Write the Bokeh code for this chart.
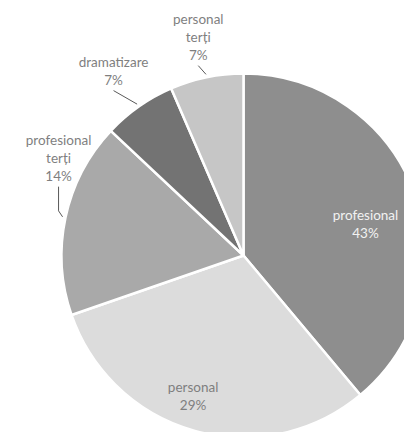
import numpy as np
from bokeh.plotting import figure
from bokeh.models import Range1d, ColumnDataSource
from bokeh.core.properties import value
from bokeh.embed import file_html
from bokeh.resources import INLINE

# ---- data ----
categories = ["profesional", "personal", "profesional\nterți", "dramatizare", "personal\nterți"]
shares = [38.9, 30.8, 17.3, 6.5, 6.5]
pct_labels = ["43%", "29%", "14%", "7%", "7%"]

# ---- style ----
colors = ["#8e8e8e", "#dcdcdc", "#a9a9a9", "#737373", "#c6c6c6"]
label_colors = ["#f2f2f2", "#7f7f7f", "#7f7f7f", "#7f7f7f", "#7f7f7f"]
label_angle_offset = [5.5, 4.3, 15.7, 0.0, 0.0]   # degrees
label_dist = [126, 149, 209, 226, 223]            # px from centre
has_leader = [False, False, True, True, True]
leader_elbow = [False, False, True, False, False]

W, H = 404, 432
cx, cy_screen, R = 243, 255, 182
cy = H - cy_screen
LINE_H = 17

p = figure(width=W, height=H, output_backend="svg", toolbar_location=None,
           x_range=Range1d(0, W), y_range=Range1d(0, H),
           min_border=0, outline_line_color=None,
           background_fill_color="white", border_fill_color="white")
p.axis.visible = False
p.xgrid.visible = False
p.ygrid.visible = False

vals = np.array(shares, dtype=float)
frac = vals / vals.sum()
cum_end = np.cumsum(frac)
cum_start = cum_end - frac
# angles measured clockwise from 12 o'clock (degrees)
a0 = cum_start * 360
a1 = cum_end * 360
mid = (a0 + a1) / 2

start_angle = np.pi / 2 - np.deg2rad(a0)
end_angle = np.pi / 2 - np.deg2rad(a1)

src = ColumnDataSource(dict(start=start_angle, end=end_angle, color=colors))
p.wedge(x=cx, y=cy, radius=R, start_angle="start", end_angle="end",
        direction="clock", fill_color="color", line_color="white",
        line_width=2.5, source=src)

# labels
lx, ly, texts = [], [], []
for i, cat in enumerate(categories):
    ang = np.deg2rad(mid[i] + label_angle_offset[i])
    x = cx + label_dist[i] * np.sin(ang)
    y = cy + label_dist[i] * np.cos(ang)
    lx.append(x)
    ly.append(y)
    texts.append(cat + "\n" + pct_labels[i])

p.text(x=lx, y=ly, text=texts, text_align="center", text_baseline="middle",
       text_font=value("Lato"), text_font_size="13.5px", text_color=label_colors,
       text_line_height=1.12)

# leader lines
xs, ys = [], []
for i, cat in enumerate(categories):
    if not has_leader[i]:
        continue
    n_lines = len(texts[i].split("\n"))
    ang = np.deg2rad(mid[i])
    sx = cx + (R + 3) * np.sin(ang)
    sy = cy + (R + 3) * np.cos(ang)
    ex = lx[i]
    ey = ly[i] - n_lines * LINE_H / 2 - 3
    if leader_elbow[i]:
        xs.append([sx, ex, ex])
        ys.append([sy, sy + 6, ey])
    else:
        xs.append([sx, ex])
        ys.append([sy, ey])

p.multi_line(xs=xs, ys=ys, line_color="#595959", line_width=1)

open("out.html", "w").write(file_html(p, INLINE))
